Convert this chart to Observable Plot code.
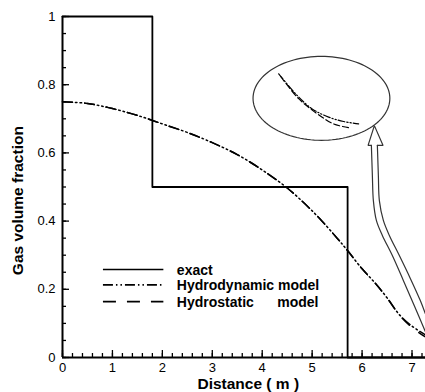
<!DOCTYPE html>
<html>
<head>
<meta charset="utf-8">
<script src="https://cdn.jsdelivr.net/npm/d3@7"></script>
<script src="https://cdn.jsdelivr.net/npm/@observablehq/plot@0.6"></script>
<style>
  html, body { margin: 0; padding: 0; background: #fff; }
  #chart svg { display: block; }
</style>
</head>
<body>
<div id="chart"></div>
<script>
// Exact (step) solution of gas volume fraction along the pipe
const exactX = [0, 1.8, 1.8, 5.71, 5.71, 7.27];
const exactY = [1, 1, 0.5, 0.5, 0, 0];

// Hydrodynamic model profile
const hydroDynX = [0, 0.5, 1.0, 1.5, 2.0, 2.5, 3.0, 3.5, 4.0, 4.5, 5.0, 5.5, 5.7, 6.0, 6.25, 6.5, 6.75, 7.0, 7.27];
const hydroDynY = [0.75, 0.745, 0.73, 0.71, 0.685, 0.66, 0.63, 0.595, 0.55, 0.497, 0.43, 0.35, 0.315, 0.26, 0.22, 0.175, 0.125, 0.092, 0.066];

// Hydrostatic model profile
const hydroStaX = [0, 0.5, 1.0, 1.5, 2.0, 2.5, 3.0, 3.5, 4.0, 4.5, 5.0, 5.5, 5.7, 6.0, 6.25, 6.5, 6.75, 7.0, 7.27];
const hydroStaY = [0.75, 0.745, 0.73, 0.71, 0.685, 0.66, 0.63, 0.595, 0.55, 0.497, 0.43, 0.35, 0.315, 0.26, 0.22, 0.175, 0.124, 0.088, 0.06];

// Magnified tail of both models, shown inside the zoom ellipse
const insetDynX = [4.33, 4.67, 5.0, 5.33, 5.63, 5.93];
const insetDynY = [0.832, 0.773, 0.729, 0.705, 0.692, 0.685];
const insetStaX = [4.37, 4.73, 5.10, 5.43, 5.77];
const insetStaY = [0.824, 0.759, 0.715, 0.685, 0.673];

// Zoom ellipse (centre and radii in data units)
const ellipseCenter = [5.186, 0.76];
const ellipseRadii = [1.37, 0.123];

// Hollow arrow pointing from the curve tail up to the zoom ellipse
const arrowLeftX = [6.186, 6.206, 6.226, 6.286, 6.406, 6.606, 6.826, 7.046, 7.266];
const arrowLeftY = [0.622, 0.534, 0.460, 0.402, 0.358, 0.299, 0.226, 0.152, 0.076];
const arrowRightX = [6.306, 6.326, 6.346, 6.426, 6.546, 6.746, 6.966, 7.166, 7.266];
const arrowRightY = [0.622, 0.534, 0.460, 0.402, 0.358, 0.299, 0.232, 0.167, 0.129];
const arrowHeadX = [6.186, 6.12, 6.246, 6.42, 6.306];
const arrowHeadY = [0.622, 0.622, 0.680, 0.622, 0.622];

// Axis ticks
const xMajor = [0, 1, 2, 3, 4, 5, 6, 7];
const xMinor = d3.range(0, 37).map(i => i * 0.2).filter(v => v <= 7.27);
const yMajor = [0, 0.2, 0.4, 0.6, 0.8, 1];
const yMinor = d3.range(0, 21).map(i => i * 0.05);

// Legend entries
const legendLabels = ["exact", "Hydrodynamic model", "Hydrostatic\u00a0\u00a0\u00a0\u00a0\u00a0\u00a0model"];
const legendLineY = [0.258, 0.213, 0.164];

// Axis titles
const xTitle = "Distance ( m )";
const yTitle = "Gas volume fraction";

const zip = (xs, ys) => xs.map((x, i) => ({x, y: ys[i]}));

const exact = zip(exactX, exactY);
const hydroDyn = zip(hydroDynX, hydroDynY);
const hydroSta = zip(hydroStaX, hydroStaY);
const insetDyn = zip(insetDynX, insetDynY);
const insetSta = zip(insetStaX, insetStaY);
const arrowLeft = zip(arrowLeftX, arrowLeftY);
const arrowRight = zip(arrowRightX, arrowRightY);
const arrowHead = zip(arrowHeadX, arrowHeadY);
const ellipse = d3.range(0, 121).map(i => {
  const a = (i / 120) * 2 * Math.PI;
  return {x: ellipseCenter[0] + ellipseRadii[0] * Math.cos(a), y: ellipseCenter[1] + ellipseRadii[1] * Math.sin(a)};
});

const dashDotDot = "10,3,1.5,3,1.5,3";
const dashed = "10,12";
const legendDash = [null, dashDotDot, "13,11"];

const legendX1 = 0.82, legendX2 = 2.03, legendTextX = 2.29;
const legendMarks = legendLabels.flatMap((label, i) => [
  Plot.ruleY([legendLineY[i]], {x1: legendX1, x2: legendX2, stroke: "#000", strokeWidth: 1.6, strokeDasharray: legendDash[i]}),
  Plot.text([label], {x: legendTextX, y: legendLineY[i], text: d => d, textAnchor: "start", fontWeight: "bold", fontSize: 14, fill: "#000", dy: 1})
]);

const W = 425, H = 392, ML = 62, MR = 0, MT = 16, MB = 35;
const frameW = W - ML - MR, frameH = H - MT - MB;
const fmt = d => String(+d.toFixed(2));

const plot = Plot.plot({
  width: W,
  height: H,
  marginLeft: ML,
  marginRight: MR,
  marginTop: MT,
  marginBottom: MB,
  x: {domain: [0, 7.27]},
  y: {domain: [0, 1]},
  style: {fontFamily: "'Liberation Sans', Arial, sans-serif", fontSize: "13px", color: "#000", background: "#fff"},
  marks: [
    // model curves
    Plot.line(hydroSta, {x: "x", y: "y", stroke: "#000", strokeWidth: 1.5, strokeDasharray: dashed, curve: "catmull-rom"}),
    Plot.line(hydroDyn, {x: "x", y: "y", stroke: "#000", strokeWidth: 1.5, strokeDasharray: dashDotDot, curve: "catmull-rom"}),
    Plot.line(exact, {x: "x", y: "y", stroke: "#000", strokeWidth: 1.8}),

    // zoom ellipse with magnified curves
    Plot.line(ellipse, {x: "x", y: "y", stroke: "#333", strokeWidth: 1.2, curve: "linear"}),
    Plot.line(insetDyn, {x: "x", y: "y", stroke: "#000", strokeWidth: 1.2, strokeDasharray: "7,2,1.2,2,1.2,2", curve: "catmull-rom"}),
    Plot.line(insetSta, {x: "x", y: "y", stroke: "#000", strokeWidth: 1.2, strokeDasharray: "6,3", curve: "catmull-rom"}),

    // hollow arrow
    Plot.line(arrowLeft, {x: "x", y: "y", stroke: "#333", strokeWidth: 1.2, curve: "catmull-rom"}),
    Plot.line(arrowRight, {x: "x", y: "y", stroke: "#333", strokeWidth: 1.2, curve: "catmull-rom"}),
    Plot.line(arrowHead, {x: "x", y: "y", stroke: "#333", strokeWidth: 1.2, strokeLinejoin: "miter"}),

    // legend
    ...legendMarks,

    // inward ticks (minor and major) along both axes
    Plot.tickX(xMinor, {x: d => d, insetTop: frameH - 4, stroke: "#000", strokeWidth: 1.3}),
    Plot.tickX(xMajor, {x: d => d, insetTop: frameH - 7, stroke: "#000", strokeWidth: 1.3}),
    Plot.tickY(yMinor, {y: d => d, insetRight: frameW - 4, stroke: "#000", strokeWidth: 1.3}),
    Plot.tickY(yMajor, {y: d => d, insetRight: frameW - 7, stroke: "#000", strokeWidth: 1.3}),

    // tick labels
    Plot.axisX({ticks: xMajor, tickSize: 0, tickPadding: 5, tickFormat: fmt, label: null, fontSize: 13}),
    Plot.axisY({ticks: yMajor, tickSize: 0, tickPadding: 7, tickFormat: fmt, label: null, fontSize: 13}),
    Plot.ruleX([0], {stroke: "#000", strokeWidth: 2}),
    Plot.ruleY([0], {stroke: "#000", strokeWidth: 2}),

    // axis titles
    Plot.text([xTitle], {x: 3.72, y: 0, text: d => d, dy: 27, fontWeight: "bold", fontSize: 15.5, fill: "#000"}),
    Plot.text([yTitle], {x: 0, y: 0.46, text: d => d, dx: -44, rotate: -90, fontWeight: "bold", fontSize: 15.5, fill: "#000"})
  ]
});

document.getElementById("chart").appendChild(plot);
</script>
</body>
</html>
